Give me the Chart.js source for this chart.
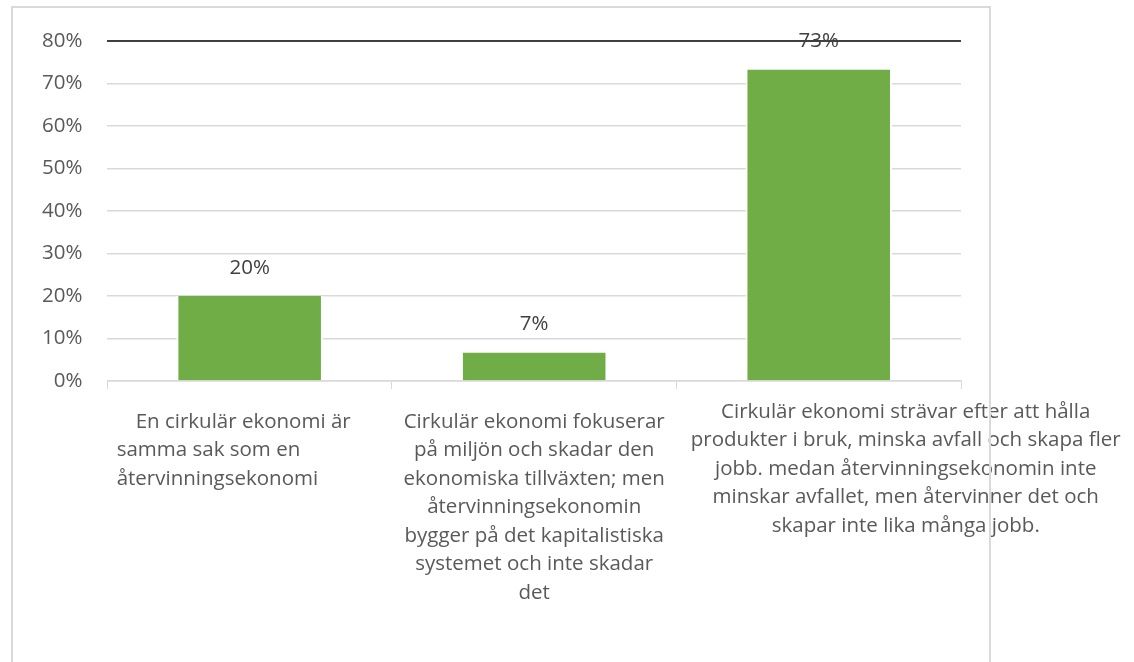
<!DOCTYPE html>
<html>
<head>
<meta charset="utf-8">
<script src="https://cdn.jsdelivr.net/npm/chart.js@4.4.0/dist/chart.umd.min.js"></script>
<style>
  html, body { margin: 0; padding: 0; background: #fff; }
  #wrap { width: 1134px; height: 662px; }
</style>
</head>
<body>
<div id="wrap"><canvas id="chart" width="1134" height="662"></canvas></div>
<script>
// answer options (each one split into the lines shown under the axis)
const categories = [
  ['En cirkulär ekonomi är', 'samma sak som en', 'återvinningsekonomi'],
  ['Cirkulär ekonomi fokuserar', 'på miljön och skadar den', 'ekonomiska tillväxten; men',
   'återvinningsekonomin', 'bygger på det kapitalistiska', 'systemet och inte skadar', 'det'],
  ['Cirkulär ekonomi strävar efter att hålla', 'produkter i bruk, minska avfall och skapa fler',
   'jobb. medan återvinningsekonomin inte', 'minskar avfallet, men återvinner det och',
   'skapar inte lika många jobb.']
];
const shares = [20, 6.7, 73.3];
const yTickLabels = ['0%', '10%', '20%', '30%', '40%', '50%', '60%', '70%', '80%'];

const FONT = '"Open Sans", "Liberation Sans", sans-serif';

// where each wrapped category label sits relative to its category centre
const labelLayout = [
  { align: 'left', dx: -133, top: 422, indent: 19 },
  { align: 'center', dx: 0, top: 422, indent: 0 },
  { align: 'center', dx: 87, top: 412, indent: 0 }
];
const lineHeight = 28.5;

const extrasPlugin = {
  id: 'extras',
  afterDatasetsDraw(chart) {
    const ctx = chart.ctx;
    const meta = chart.getDatasetMeta(0);
    ctx.save();
    ctx.font = '20.5px ' + FONT;
    ctx.fillStyle = '#404040';
    ctx.textAlign = 'center';
    ctx.textBaseline = 'middle';
    meta.data.forEach((bar, i) => {
      ctx.fillText(Math.round(shares[i]) + '%', bar.x, bar.y - 28);
    });
    ctx.restore();
  },
  afterDraw(chart) {
    const ctx = chart.ctx;
    const x = chart.scales.x;
    ctx.save();
    ctx.font = '20.5px ' + FONT;
    ctx.fillStyle = '#595959';
    ctx.textBaseline = 'middle';
    categories.forEach((lines, i) => {
      const l = labelLayout[i];
      const cx = x.getPixelForValue(i) + l.dx;
      ctx.textAlign = l.align;
      lines.forEach((line, j) => {
        ctx.fillText(line, cx + (j === 0 ? l.indent : 0), l.top + j * lineHeight);
      });
    });
    // outer frame
    ctx.strokeStyle = '#d9d9d9';
    ctx.lineWidth = 2;
    ctx.beginPath();
    ctx.moveTo(12, 700);
    ctx.lineTo(12, 7);
    ctx.lineTo(990, 7);
    ctx.lineTo(990, 700);
    ctx.stroke();
    ctx.restore();
  }
};

new Chart(document.getElementById('chart'), {
  type: 'bar',
  data: {
    labels: categories,
    datasets: [{
      data: shares,
      backgroundColor: '#70ad47',
      borderColor: '#ffffff',
      borderWidth: { left: 2, right: 2, top: 0, bottom: 0 },
      borderSkipped: false,
      categoryPercentage: 1,
      barPercentage: 0.515
    }]
  },
  options: {
    responsive: false,
    animation: false,
    layout: { padding: { left: 17, right: 173, top: 41, bottom: 273 } },
    plugins: {
      legend: { display: false },
      tooltip: { enabled: false }
    },
    scales: {
      x: {
        grid: {
          display: true,
          drawOnChartArea: false,
          drawTicks: true,
          tickLength: 8,
          color: '#d9d9d9',
          offset: true
        },
        border: { display: true, color: '#d9d9d9', width: 1.5 },
        ticks: { display: false }
      },
      y: {
        min: 0,
        max: 80,
        ticks: {
          stepSize: 10,
          padding: 25,
          color: '#595959',
          font: { family: FONT, size: 20.5 },
          callback: (v, i) => yTickLabels[i]
        },
        grid: {
          drawTicks: false,
          color: c => c.tick && c.tick.value === 80 ? '#404040' : '#d9d9d9',
          lineWidth: c => c.tick && c.tick.value === 80 ? 2 : 1.5
        },
        border: { display: false }
      }
    }
  },
  plugins: [extrasPlugin]
});
</script>
</body>
</html>
